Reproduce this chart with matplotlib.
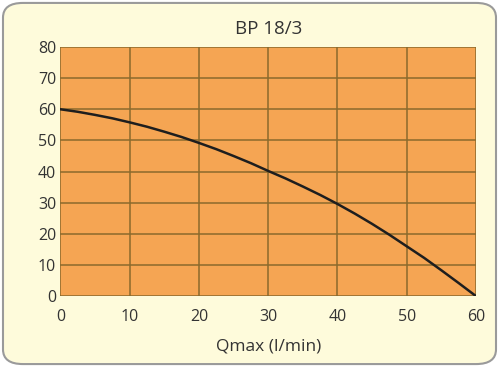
import matplotlib
matplotlib.use("Agg")
import matplotlib.pyplot as plt
from matplotlib.patches import FancyBboxPatch
import numpy as np

# Q (l/min) and head (m)
flow = [0, 2.5, 5, 7.5, 10, 12.5, 15, 17.5, 20, 22.5, 25, 27.5, 30, 32.5, 35,
        37.5, 40, 42.5, 45, 47.5, 50, 52.5, 55, 57.5, 60]
head = [60, 59.2, 58.2, 57.1, 55.8, 54.4, 52.8, 51.1, 49.2, 47.2, 45.0, 42.7,
        40.2, 37.8, 35.2, 32.5, 29.6, 26.5, 23.2, 19.7, 16.0, 12.3, 8.3, 4.2, 0]
x_ticks = [0, 10, 20, 30, 40, 50, 60]
y_ticks = [0, 10, 20, 30, 40, 50, 60, 70, 80]

plt.rcParams['font.family'] = ['Open Sans', 'DejaVu Sans']

fig = plt.figure(figsize=(4.99, 3.67), dpi=100)
fig.patch.set_facecolor('white')

# cream rounded panel behind everything
panel = FancyBboxPatch((0.006, 0.008), 0.988, 0.984,
                       boxstyle="round,pad=0,rounding_size=0.04",
                       transform=fig.transFigure, facecolor='#fefbdb',
                       edgecolor='#9a9a9a', linewidth=1.5, zorder=-10)
fig.add_artist(panel)

ax = fig.add_axes([0.121, 0.193, 0.833, 0.679])
ax.set_zorder(1)
ax.set_facecolor('#f5a553')
ax.plot(flow, head, color='#1e1e1e', linewidth=1.8, zorder=3)

ax.set_xlim(0, 60)
ax.set_ylim(0, 80)
ax.set_xticks(x_ticks)
ax.set_yticks(y_ticks)
ax.grid(True, color='#8a6a2c', linewidth=1.1)
for s in ax.spines.values():
    s.set_visible(False)
ax.tick_params(length=0, labelsize=11.5, colors='#333333')
ax.tick_params(axis='x', pad=9)
ax.tick_params(axis='y', pad=3)

ax.set_title('BP 18/3', fontsize=13.5, color='#333333', pad=9)
ax.set_xlabel('Qmax (l/min)', fontsize=12.5, color='#333333', labelpad=10)

fig.savefig('out.png', dpi=100)
